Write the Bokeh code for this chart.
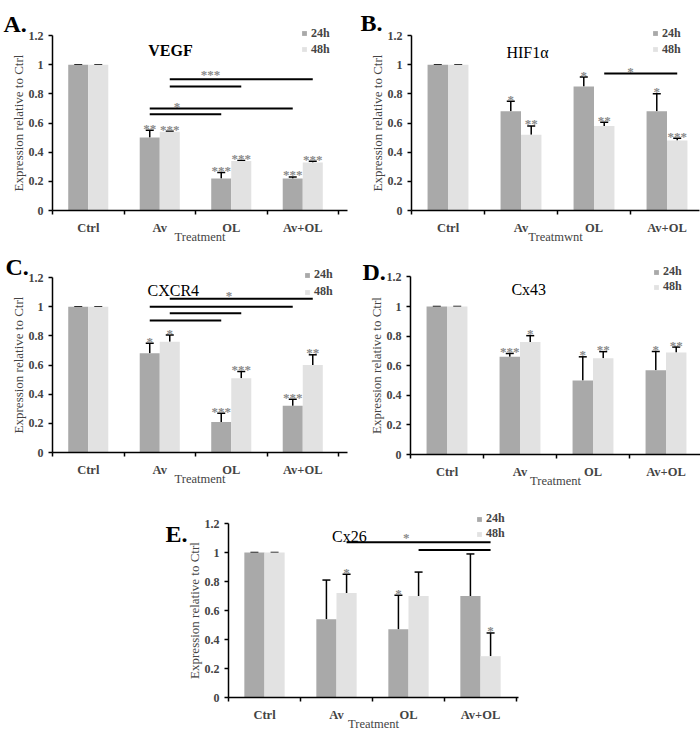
from bokeh.plotting import figure
from bokeh.models import (Range1d, FixedTicker, Legend, LegendItem, Label, Spacer,
                          ColumnDataSource, Whisker, TeeHead)
from bokeh.layouts import row, column
from bokeh.embed import file_html
from bokeh.resources import INLINE
from bokeh.core.properties import value

# ---------------- data ----------------
categories = ["Ctrl", "Av", "OL", "Av+OL"]
series = ["24h", "48h"]
y_ticks = [0, 0.2, 0.4, 0.6, 0.8, 1.0, 1.2]
y_tick_labels = ["0", "0.2", "0.4", "0.6", "0.8", "1", "1.2"]

# A. VEGF
vegf_24h = [1.00, 0.50, 0.22, 0.22]
vegf_24h_err = [0.0, 0.05, 0.04, 0.01]
vegf_48h = [1.00, 0.54, 0.34, 0.33]
vegf_48h_err = [0.0, 0.003, 0.003, 0.008]
vegf_24h_sig = ["", "**", "***", "***"]
vegf_48h_sig = ["", "***", "***", "***"]
vegf_pairs = [("Av", "48h", "Av+OL", "48h", 0.90), ("Av", "48h", "OL", "48h", 0.85),
              ("Av", "24h", "Av+OL", "24h", 0.70), ("Av", "24h", "OL", "24h", 0.66)]
vegf_pair_sig = [("***", 2.21, 0.92), ("*", 1.74, 0.70)]

# B. HIF1a
hif_24h = [1.00, 0.68, 0.85, 0.68]
hif_24h_err = [0.0, 0.07, 0.065, 0.12]
hif_48h = [1.00, 0.52, 0.58, 0.48]
hif_48h_err = [0.0, 0.06, 0.025, 0.015]
hif_24h_sig = ["", "*", "*", "*"]
hif_48h_sig = ["", "**", "**", "***"]
hif_pairs = [("OL", "48h", "Av+OL", "48h", 0.94)]
hif_pair_sig = [("*", 3.0, 0.94)]

# C. CXCR4
cxcr4_24h = [1.00, 0.68, 0.21, 0.32]
cxcr4_24h_err = [0.0, 0.07, 0.06, 0.045]
cxcr4_48h = [1.00, 0.76, 0.51, 0.60]
cxcr4_48h_err = [0.0, 0.045, 0.045, 0.07]
cxcr4_24h_sig = ["", "*", "***", "***"]
cxcr4_48h_sig = ["", "*", "***", "**"]
cxcr4_pairs = [("Av", "48h", "Av+OL", "48h", 1.055), ("Av", "24h", "Av+OL", "24h", 1.00),
               ("Av", "48h", "OL", "48h", 0.955), ("Av", "24h", "OL", "24h", 0.905)]
cxcr4_pair_sig = [("*", 2.47, 1.06)]

# D. Cx43
cx43_24h = [1.00, 0.66, 0.50, 0.57]
cx43_24h_err = [0.0, 0.023, 0.16, 0.126]
cx43_48h = [1.00, 0.76, 0.65, 0.69]
cx43_48h_err = [0.0, 0.043, 0.045, 0.036]
cx43_24h_sig = ["", "***", "*", "*"]
cx43_48h_sig = ["", "*", "**", "**"]
cx43_pairs = []
cx43_pair_sig = []

# E. Cx26
cx26_24h = [1.00, 0.54, 0.47, 0.70]
cx26_24h_err = [0.0, 0.27, 0.235, 0.29]
cx26_48h = [1.00, 0.72, 0.70, 0.285]
cx26_48h_err = [0.0, 0.13, 0.165, 0.16]
cx26_24h_sig = ["", "", "*", ""]
cx26_48h_sig = ["", "*", "", "*"]
cx26_pairs = [("Av", "48h", "Av+OL", "48h", 1.07), ("OL", "48h", "Av+OL", "48h", 1.017)]
cx26_pair_sig = [("*", 2.47, 1.09)]

# ---------------- style ----------------
SERIF = "Liberation Serif"
C24 = "#a9a9a9"
C48 = "#e2e2e2"
STAR = "#8a8a8a"
BAR_W = 0.28
OFF = 0.14


def xpos(cat, ser):
    return categories.index(cat) + 0.5 + (-OFF if ser == "24h" else OFF)


def panel(cfg):
    w, h = cfg["w"], cfg["h"]
    x0, cw = cfg["x0"], cfg["cw"]          # y-axis position (px from left), px per category
    y0, sc = cfg["y0"], cfg["sc"]          # zero line (px from top), px per unit
    p = figure(width=w, height=h, output_backend="svg", toolbar_location=None,
               x_range=Range1d(-x0 / cw, (w - x0) / cw),
               y_range=Range1d(-(h - y0) / sc, y0 / sc),
               min_border=0, background_fill_color="white", border_fill_color="white")
    p.outline_line_color = None
    p.grid.visible = False

    x24 = [xpos(c, "24h") for c in categories]
    x48 = [xpos(c, "48h") for c in categories]
    v24, e24, v48, e48 = cfg["v24"], cfg["e24"], cfg["v48"], cfg["e48"]

    r24 = p.vbar(x=x24, top=v24, width=BAR_W, fill_color=C24, line_color=None)
    r48 = p.vbar(x=x48, top=v48, width=BAR_W, fill_color=C48, line_color=None)

    for xs, vs, es in ((x24, v24, e24), (x48, v48, e48)):
        src = ColumnDataSource(dict(base=xs, lower=vs, upper=[v + e for v, e in zip(vs, es)]))
        p.add_layout(Whisker(base="base", lower="lower", upper="upper", source=src,
                             dimension="height", line_color="black", line_width=1.5,
                             upper_head=TeeHead(size=8, line_color="black", line_width=1.5),
                             lower_head=None))

    # significance stars
    sx, sy, st = [], [], []
    for xs, vs, es, sg in ((x24, v24, e24, cfg["s24"]), (x48, v48, e48, cfg["s48"])):
        for x, v, e, s in zip(xs, vs, es, sg):
            if s:
                sx.append(x); sy.append(v + e); st.append(s)
    for s, x, y in cfg["pair_sig"]:
        sx.append(x); sy.append(y); st.append(s)
    p.text(x=sx, y=sy, text=st, text_font=value(SERIF), text_font_size="13px",
           text_font_style="bold", text_color=STAR, text_align="center",
           text_baseline="alphabetic", y_offset=-2)

    # comparison lines
    if cfg["pairs"]:
        p.segment(x0=[xpos(a, b) for a, b, _, _, _ in cfg["pairs"]],
                  x1=[xpos(c, d) for _, _, c, d, _ in cfg["pairs"]],
                  y0=[y for *_, y in cfg["pairs"]], y1=[y for *_, y in cfg["pairs"]],
                  line_color="black", line_width=2)

    # gene name
    tx, ty = cfg["title_pos"]
    p.text(x=[tx], y=[ty], text=[cfg["title"]], text_font=value(SERIF),
           text_font_size="16px", text_font_style=cfg.get("title_style", "normal"),
           text_color="black", text_align="center", text_baseline="middle")

    # panel letter
    lx, ly = cfg["letter_pos"]
    p.add_layout(Label(x=lx, y=ly, text=cfg["letter"], text_font=SERIF, text_font_style="bold",
                       text_font_size="24px", text_color="black", text_baseline="alphabetic"))

    # axes (placed at the data origin)
    yax = p.yaxis[0]
    yax.fixed_location = 0
    yax.ticker = FixedTicker(ticks=y_ticks)
    yax.major_label_overrides = dict(zip(y_ticks, y_tick_labels))
    yax.bounds = (0, 1.2)
    yax.axis_label = "Expression relative to Ctrl"
    yax.axis_label_text_font = SERIF
    yax.axis_label_text_font_style = "normal"
    yax.axis_label_text_font_size = "13px"
    yax.axis_label_standoff = 0
    yax.major_label_text_font = SERIF
    yax.major_label_text_font_style = "bold"
    yax.major_label_text_font_size = "12px"
    yax.major_label_standoff = 5
    yax.major_tick_out = 4
    yax.major_tick_in = 0
    yax.minor_tick_line_color = None
    yax.axis_line_width = 1.5
    yax.major_tick_line_width = 1.5

    xax = p.xaxis[0]
    xax.fixed_location = 0
    xax.ticker = FixedTicker(ticks=[i + 0.5 for i in range(len(categories))],
                             minor_ticks=list(range(len(categories) + 1)))
    xax.major_label_overrides = {i + 0.5: c for i, c in enumerate(categories)}
    xax.bounds = (0, cfg["x_axis_end"])
    xax.axis_label = cfg["xlabel"]
    xax.axis_label_text_font = SERIF
    xax.axis_label_text_font_style = "normal"
    xax.axis_label_text_font_size = "12.5px"
    xax.axis_label_standoff = -8
    xax.major_label_text_font = SERIF
    xax.major_label_text_font_style = "bold"
    xax.major_label_text_font_size = "12.5px"
    xax.major_label_standoff = 6
    xax.major_tick_out = 0
    xax.major_tick_in = 0
    xax.major_tick_line_color = None
    xax.minor_tick_out = 4
    xax.minor_tick_in = 0
    xax.minor_tick_line_width = 1.5
    xax.axis_line_width = 1.5

    vx, vy, pitch = cfg["legend"]
    leg = Legend(items=[LegendItem(label=series[0], renderers=[r24]),
                        LegendItem(label=series[1], renderers=[r48])],
                 location=(vx, vy), margin=0, padding=0, spacing=0,
                 label_height=pitch, glyph_height=6, glyph_width=6,
                 label_standoff=4, border_line_color=None, background_fill_alpha=0,
                 label_text_font=SERIF, label_text_font_style="bold",
                 label_text_font_size="12px")
    p.add_layout(leg)
    return p


pA = panel(dict(w=350, h=245, x0=52, cw=71.5, y0=210, sc=145.83, x_axis_end=4.126,
                v24=vegf_24h, e24=vegf_24h_err, v48=vegf_48h, e48=vegf_48h_err,
                s24=vegf_24h_sig, s48=vegf_48h_sig, pairs=vegf_pairs, pair_sig=vegf_pair_sig,
                title="VEGF", title_style="bold", title_pos=(1.65, 1.097),
                letter="A.", letter_pos=(-0.685, 1.282), xlabel="Treatment",
                legend=(301, 188, 16)))
pB = panel(dict(w=350, h=245, x0=61, cw=73, y0=210, sc=145.83, x_axis_end=3.95,
                v24=hif_24h, e24=hif_24h_err, v48=hif_48h, e48=hif_48h_err,
                s24=hif_24h_sig, s48=hif_48h_sig, pairs=hif_pairs, pair_sig=hif_pair_sig,
                title="HIF1α", title_pos=(1.59, 1.083),
                letter="B.", letter_pos=(-0.699, 1.289), xlabel="Treatmwnt",
                legend=(302, 188, 16)))
pC = panel(dict(w=350, h=245, x0=52, cw=71.5, y0=207, sc=145.83, x_axis_end=4.126,
                v24=cxcr4_24h, e24=cxcr4_24h_err, v48=cxcr4_48h, e48=cxcr4_48h_err,
                s24=cxcr4_24h_sig, s48=cxcr4_48h_sig, pairs=cxcr4_pairs, pair_sig=cxcr4_pair_sig,
                title="CXCR4", title_pos=(1.69, 1.11),
                letter="C.", letter_pos=(-0.657, 1.269), xlabel="Treatment",
                legend=(304, 190, 17)))
pD = panel(dict(w=350, h=245, x0=60, cw=73, y0=209, sc=148, x_axis_end=3.97,
                v24=cx43_24h, e24=cx43_24h_err, v48=cx43_48h, e48=cx43_48h_err,
                s24=cx43_24h_sig, s48=cx43_48h_sig, pairs=cx43_pairs, pair_sig=cx43_pair_sig,
                title="Cx43", title_pos=(1.62, 1.114),
                letter="D.", letter_pos=(-0.658, 1.23), xlabel="Treatment",
                legend=(303, 196, 13)))
pE = panel(dict(w=380, h=243, x0=68, cw=72, y0=207, sc=145, x_axis_end=4.03,
                v24=cx26_24h, e24=cx26_24h_err, v48=cx26_48h, e48=cx26_48h_err,
                s24=cx26_24h_sig, s48=cx26_48h_sig, pairs=cx26_pairs, pair_sig=cx26_pair_sig,
                title="Cx26", title_pos=(1.68, 1.113),
                letter="E.", letter_pos=(-0.875, 1.131), xlabel="Treatment",
                legend=(316, 192, 14)))

layout = column(row(pA, pB), row(pC, pD), row(Spacer(width=160, height=243), pE))
open("out.html", "w").write(file_html(layout, INLINE))
